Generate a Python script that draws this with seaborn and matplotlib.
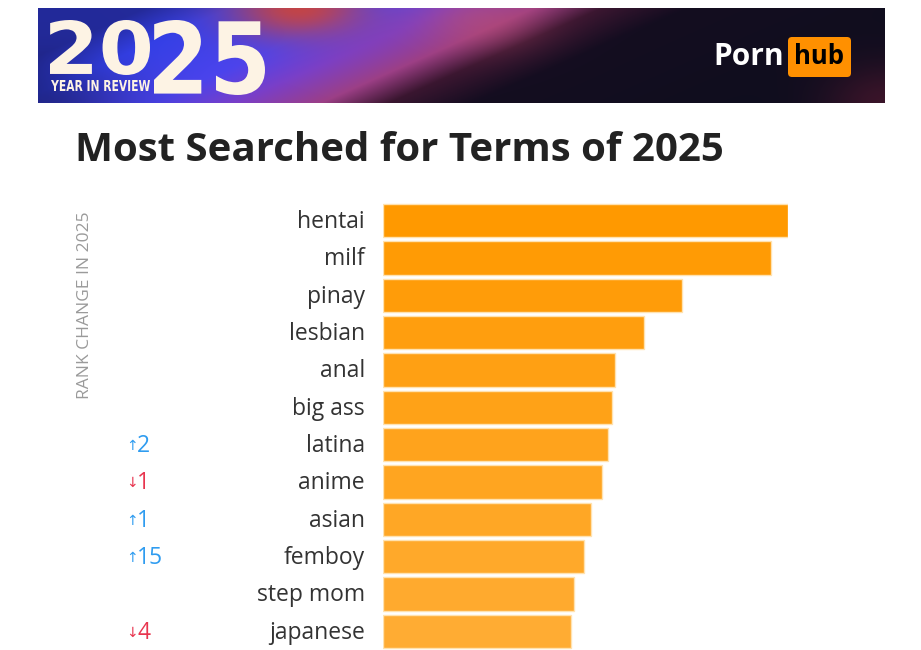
import numpy as np
import pandas as pd
import matplotlib
matplotlib.use("Agg")
import matplotlib.pyplot as plt
import seaborn as sns
from matplotlib.textpath import TextPath
from matplotlib.patches import PathPatch, FancyBboxPatch
from matplotlib.font_manager import FontProperties
from matplotlib.transforms import Affine2D
from matplotlib.colors import to_rgb

# ---------------- data ----------------
terms = ["hentai", "milf", "pinay", "lesbian", "anal", "big ass",
         "latina", "anime", "asian", "femboy", "step mom", "japanese"]
search_volume = [405, 388, 299, 261, 232, 229, 225, 219, 208, 201, 191, 188]
rank_change = [None, None, None, None, None, None, 2, -1, 1, 15, None, -4]
title = "Most Searched for Terms of 2025"
side_label = "RANK CHANGE IN 2025"

sns.set_theme(style="white")
plt.rcParams["font.family"] = ["Open Sans", "DejaVu Sans"]

W, H = 921, 650
fig = plt.figure(figsize=(W / 100, H / 100), dpi=100)
fig.patch.set_facecolor("white")

# ---------------- banner ----------------
bx0, by0, bx1, by1 = 38, 8, 885, 103
bw, bh = bx1 - bx0, by1 - by0
bax = fig.add_axes([bx0 / W, 1 - by1 / H, bw / W, bh / H])
xs = np.linspace(0, 1, bw)[None, :]
ys = np.linspace(0, 1, bh)[:, None]  # 0 top, 1 bottom
u = xs * 1.0 + (ys - 0.5) * 0.25
stops = [(0.00, "#232a9a"), (0.10, "#3440e8"), (0.26, "#4b44ee"),
         (0.36, "#7a3fc8"), (0.46, "#9c3f86"), (0.54, "#3a1630"),
         (0.64, "#140d20"), (1.00, "#0f0d1e")]
img = np.zeros((bh, bw, 3))
pos = np.array([s[0] for s in stops])
cols = np.array([to_rgb(s[1]) for s in stops])
for c in range(3):
    img[:, :, c] = np.interp(u, pos, cols[:, c])
# orange/red glow at top
gx = (np.arange(bw)[None, :] - 260) / 70.0
gy = (np.arange(bh)[:, None] - 0) / 30.0
glow = np.exp(-(gx ** 2 + gy ** 2))
img = img * (1 - glow[..., None] * 0.85) + np.array(to_rgb("#d8452c")) * glow[..., None] * 0.85
# pink glow in band top
gx = (np.arange(bw)[None, :] - 440) / 60.0
gy = (np.arange(bh)[:, None] - 10) / 30.0
glow = np.exp(-(gx ** 2 + gy ** 2))
img = img * (1 - glow[..., None] * 0.5) + np.array(to_rgb("#c0506e")) * glow[..., None] * 0.5
# darker bottom-left corner
gx2 = (np.arange(bw)[None, :] - 0) / 90.0
gy2 = (np.arange(bh)[:, None] - bh) / 40.0
dk = np.exp(-(gx2 ** 2 + gy2 ** 2))
img = img * (1 - dk[..., None] * 0.4)
# slight red at far right bottom
gx3 = (np.arange(bw)[None, :] - bw) / 60.0
gy3 = (np.arange(bh)[:, None] - bh) / 40.0
rd = np.exp(-(gx3 ** 2 + gy3 ** 2))
img = img * (1 - rd[..., None] * 0.4) + np.array(to_rgb("#7a1f3a")) * rd[..., None] * 0.4
bax.imshow(np.clip(img, 0, 1), extent=(0, bw, bh, 0), aspect="auto")
bax.set_xlim(0, bw)
bax.set_ylim(bh, 0)
bax.axis("off")

cream = "#fdf3e4"
bigfont = FontProperties(family="DejaVu Sans", weight="bold")


def stretched_text(ax, s, x0, x1, y_top, y_bot, color):
    tp = TextPath((0, 0), s, size=1, prop=bigfont)
    ext = tp.get_extents()
    sx = (x1 - x0) / ext.width
    sy = (y_bot - y_top) / ext.height
    tr = Affine2D().translate(-ext.x0, -ext.y0).scale(sx, -sy).translate(x0, y_bot)
    ax.add_patch(PathPatch(tp, transform=tr + ax.transData, fc=color, ec="none"))


stretched_text(bax, "20", 12, 112, 12, 67, cream)
stretched_text(bax, "25", 116, 227, 12, 87, cream)
stretched_text(bax, "YEAR IN REVIEW", 13, 112, 72, 83, cream)

# Pornhub logo
bax.text(784 - bx0, 57 - by0, "Porn", ha="right", va="center", color="white",
         fontsize=21.5, fontweight="bold", family="Open Sans")
bax.add_patch(FancyBboxPatch((788 - bx0, 37 - by0), 63, 40,
                             boxstyle="round,pad=0,rounding_size=4",
                             fc="#ff9000", ec="none"))
bax.text(819.5 - bx0, 57 - by0, "hub", ha="center", va="center", color="black",
         fontsize=18.5, fontweight="bold", family="Open Sans")

# ---------------- title ----------------
fig.text(75 / W, 1 - 150 / H, title, ha="left", va="center",
         fontsize=29, fontweight="bold", color="#222222")

# ---------------- bar chart ----------------
left, right = 383, 788
top, bot = 202, 650
ax = fig.add_axes([left / W, 1 - bot / H, (right - left) / W, (bot - top) / H])
df = pd.DataFrame({"term": terms, "volume": search_volume})
c0 = np.array(to_rgb("#ff9900"))
c1 = np.array(to_rgb("#ffac33"))
pal = [tuple(c0 + (c1 - c0) * i / (len(terms) - 1)) for i in range(len(terms))]
sns.barplot(data=df, x="volume", y="term", hue="term", palette=pal,
            legend=False, width=0.89, ax=ax, edgecolor="#ffe2b0", linewidth=1,
            saturation=1)
ax.set_xlim(0, max(search_volume))
ax.set_ylim(len(terms) - 0.5, -0.5)
ax.set_xlabel("")
ax.set_ylabel("")
ax.set_xticks([])
ax.set_yticks([])
for s in ax.spines.values():
    s.set_visible(False)
ax.set_facecolor("none")

# category labels and rank changes
pt = 0.72  # points per pixel
for i, t in enumerate(terms):
    ax.annotate(t, xy=(0, i), xycoords="data", xytext=(-18 * pt, -1),
                textcoords="offset points", ha="right", va="center",
                fontsize=16.5, color="#333333")
    rc = rank_change[i]
    if rc is not None:
        col = "#2f9cf0" if rc > 0 else "#e8354f"
        arrow = "↑" if rc > 0 else "↓"
        ax.annotate(arrow, xy=(0, i), xycoords="data",
                    xytext=((132 - left) * pt, -1),
                    textcoords="offset points", ha="center", va="center",
                    fontsize=10, color=col, family="DejaVu Sans")
        ax.annotate(str(abs(rc)), xy=(0, i), xycoords="data",
                    xytext=((137 - left) * pt, -1),
                    textcoords="offset points", ha="left", va="center",
                    fontsize=16.5, color=col)

fig.text(85 / W, 1 - 305 / H, side_label, rotation=90, ha="center", va="center",
         fontsize=12.5, color="#9a9a9a", fontweight="normal")

fig.savefig("out.png", dpi=100, facecolor="white")
